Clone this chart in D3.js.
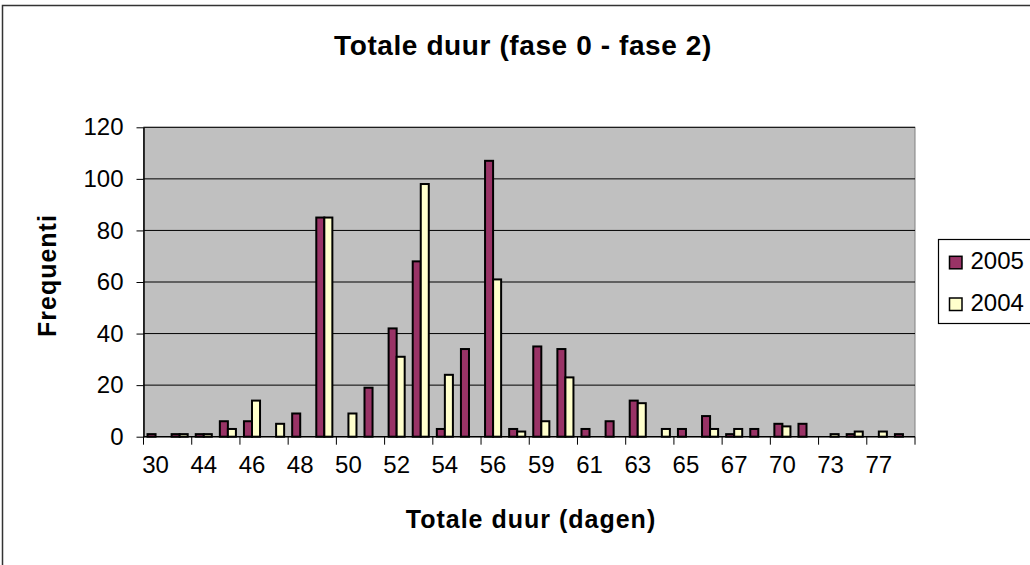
<!DOCTYPE html>
<html>
<head>
<meta charset="utf-8">
<script src="https://cdn.jsdelivr.net/npm/d3@7"></script>
<style>
  html, body { margin: 0; padding: 0; background: #fff; }
  svg { display: block; font-family: "Liberation Sans", Arial, sans-serif; }
</style>
</head>
<body>
<svg id="chart" width="1030" height="565"></svg>
<script>
// ---- data ----
const categories = ["30","43","44","45","46","47","48","49","50","51","52","53","54","55","56","57",
                    "59","60","61","62","63","64","65","66","67","68","70","71","73","75","77","79"];
const labelledCategories = ["30","44","46","48","50","52","54","56","59","61","63","65","67","70","73","77"];
const seriesNames = ["2005", "2004"];
const values2005 = [1,1,1,6,6,0,9,85,0,19,42,68,3,34,107,3,35,34,3,6,14,0,3,8,1,3,5,5,0,1,0,1];
const values2004 = [0,1,1,3,14,5,0,85,9,0,31,98,24,0,61,2,6,23,0,0,13,3,0,3,3,0,4,0,1,2,2,0];
const yTicks = [0,20,40,60,80,100,120];
const colors = {"2005": "#993366", "2004": "#FFFFCC"};
const titleText = "Totale duur (fase 0 - fase 2)";
const xTitle = "Totale duur (dagen)";
const yTitle = "Frequentie";

// ---- layout ----
const svg = d3.select("#chart");
const plot = {left: 143.5, right: 915, top: 127.3, bottom: 436.7};

// chart border (extends beyond the picture on the right/bottom)
svg.append("rect").attr("x", 2.5).attr("y", 5.5).attr("width", 1100).attr("height", 600)
  .attr("fill", "#fff").attr("stroke", "#333").attr("stroke-width", 1.5);

const x0 = d3.scaleBand().domain(categories).range([plot.left, plot.right]).padding(0);
const x1 = d3.scaleBand().domain(seriesNames).range([0, x0.bandwidth()]).paddingInner(0).paddingOuter(0.5);
const y = d3.scaleLinear().domain([0, 120]).range([plot.bottom, plot.top]);

// plot background
svg.append("rect").attr("x", plot.left).attr("y", plot.top)
  .attr("width", plot.right - plot.left).attr("height", plot.bottom - plot.top)
  .attr("fill", "#c0c0c0").attr("stroke", "#808080").attr("stroke-width", 1);

// gridlines
svg.append("g").selectAll("line").data(yTicks.filter(d => d > 0)).join("line")
  .attr("x1", plot.left).attr("x2", plot.right)
  .attr("y1", d => y(d)).attr("y2", d => y(d))
  .attr("stroke", "#000").attr("stroke-width", 1);

// bars
const rows = categories.map((c, i) => ({cat: c, vals: [
  {s: "2005", v: values2005[i]}, {s: "2004", v: values2004[i]}]}));
const g = svg.append("g");
rows.forEach(r => {
  r.vals.forEach(d => {
    if (d.v <= 0) return;
    g.append("rect")
      .attr("x", x0(r.cat) + x1(d.s))
      .attr("y", y(d.v))
      .attr("width", x1.bandwidth())
      .attr("height", y(0) - y(d.v))
      .attr("fill", colors[d.s])
      .attr("stroke", "#000").attr("stroke-width", 2);
  });
});

// y axis
const yAxis = d3.axisLeft(y).tickValues(yTicks).tickSize(7).tickSizeOuter(0).tickPadding(13).tickFormat(d3.format("d"));
const yg = svg.append("g").attr("transform", `translate(${plot.left},0)`).call(yAxis);
yg.select(".domain").attr("stroke", "#000").attr("stroke-width", 1.5);
yg.selectAll(".tick line").attr("stroke", "#000");
yg.selectAll(".tick text").attr("font-size", 24).attr("fill", "#000")
  .attr("font-family", "Liberation Sans, Arial, sans-serif");

// x axis line
svg.append("line").attr("x1", plot.left).attr("x2", plot.right)
  .attr("y1", plot.bottom).attr("y2", plot.bottom).attr("stroke", "#000").attr("stroke-width", 1.5);
// x ticks at every second category boundary
const tickPos = categories.filter((c, i) => i % 2 === 0).map(c => x0(c));
tickPos.push(x0.range()[1]);
svg.append("g").selectAll("line").data(tickPos).join("line")
  .attr("x1", d => d).attr("x2", d => d)
  .attr("y1", plot.bottom).attr("y2", plot.bottom + 8)
  .attr("stroke", "#000").attr("stroke-width", 1);
// x labels
svg.append("g").selectAll("text").data(labelledCategories).join("text")
  .attr("x", d => x0(d) + x0.bandwidth() / 2)
  .attr("y", 473)
  .attr("text-anchor", "middle")
  .attr("font-size", 24).attr("fill", "#000")
  .text(d => d);

// title
svg.append("text").attr("x", 523).attr("y", 55).attr("text-anchor", "middle")
  .attr("font-size", 28).attr("font-weight", "bold").attr("letter-spacing", 0.6)
  .text(titleText);

// x title
svg.append("text").attr("x", 531).attr("y", 528.3).attr("text-anchor", "middle")
  .attr("font-size", 25).attr("font-weight", "bold").attr("letter-spacing", 1)
  .text(xTitle);

// y title (clipped at the top as in the reference)
svg.append("clipPath").attr("id", "yclip").append("rect")
  .attr("x", 0).attr("y", 215).attr("width", 140).attr("height", 350);
svg.append("g").attr("clip-path", "url(#yclip)")
  .append("text")
  .attr("transform", "translate(56,337) rotate(-90)")
  .attr("text-anchor", "start")
  .attr("font-size", 25).attr("font-weight", "bold").attr("letter-spacing", 1)
  .text(yTitle);

// legend
const lg = svg.append("g");
lg.append("rect").attr("x", 938.5).attr("y", 239.5).attr("width", 120).attr("height", 84)
  .attr("fill", "#fff").attr("stroke", "#000").attr("stroke-width", 1.2);
const legendY = d3.scalePoint().domain(seriesNames).range([269.3, 311]);
seriesNames.forEach(s => {
  lg.append("rect").attr("x", 949.5).attr("y", legendY(s) - 13)
    .attr("width", 12.5).attr("height", 12.5)
    .attr("fill", colors[s]).attr("stroke", "#000").attr("stroke-width", 1.5);
  lg.append("text").attr("x", 970.5).attr("y", legendY(s))
    .attr("font-size", 24).attr("fill", "#000").text(s);
});
</script>
</body>
</html>
